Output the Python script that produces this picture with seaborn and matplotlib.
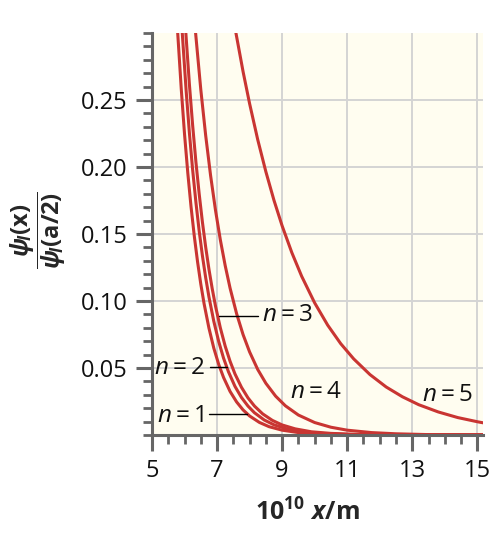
import numpy as np
import pandas as pd
import matplotlib
matplotlib.use("Agg")
from matplotlib import pyplot as plt
from matplotlib.ticker import MultipleLocator
import seaborn as sns

# values (x in 1e-10 m, y = psi(x)/psi(a/2))
n1_x = [5.79, 5.90, 6.00, 6.10, 6.20, 6.30, 6.40, 6.50, 6.60, 6.75, 6.90, 7.05, 7.20,
        7.40, 7.60, 7.80, 8.00, 8.30, 8.60, 9.00, 9.50, 10.0, 11.0, 12.0, 13.5, 15.2]
n1_y = [0.300, 0.258, 0.2245, 0.1956, 0.1703, 0.1484, 0.1293, 0.1126, 0.0981, 0.0798,
        0.0648, 0.0527, 0.0429, 0.0325, 0.0247, 0.0187, 0.0142, 0.0094, 0.0062, 0.0036,
        0.0018, 0.0009, 0.0002, 0.0001, 0.0, 0.0]

n2_x = [5.93, 6.05, 6.15, 6.25, 6.35, 6.45, 6.55, 6.65, 6.75, 6.90, 7.05, 7.20, 7.35,
        7.55, 7.75, 7.95, 8.15, 8.45, 8.75, 9.15, 9.60, 10.1, 11.0, 12.0, 13.5, 15.2]
n2_y = [0.300, 0.2567, 0.2252, 0.1977, 0.1736, 0.1523, 0.1337, 0.1174, 0.1031, 0.0848,
        0.0698, 0.0573, 0.0472, 0.0363, 0.0280, 0.0216, 0.0166, 0.0112, 0.0076, 0.0045,
        0.0025, 0.0013, 0.0004, 0.0001, 0.0, 0.0]

n3_x = [6.04, 6.15, 6.25, 6.35, 6.45, 6.55, 6.65, 6.75, 6.85, 6.95, 7.10, 7.25, 7.40,
        7.55, 7.75, 7.95, 8.15, 8.40, 8.70, 9.00, 9.40, 9.90, 10.5, 11.5, 13.0, 15.2]
n3_y = [0.300, 0.2616, 0.2309, 0.2037, 0.1800, 0.1588, 0.1402, 0.1238, 0.1093, 0.0964,
        0.0800, 0.0663, 0.0550, 0.0456, 0.0356, 0.0277, 0.0216, 0.0158, 0.0109, 0.0075,
        0.0046, 0.0024, 0.0012, 0.0003, 0.0001, 0.0]

n4_x = [6.34, 6.50, 6.65, 6.80, 6.95, 7.10, 7.25, 7.40, 7.60, 7.80, 8.00, 8.25, 8.50,
        8.80, 9.10, 9.50, 10.0, 10.5, 11.0, 11.75, 12.5, 13.5, 15.2]
n4_y = [0.300, 0.2577, 0.2235, 0.1938, 0.1680, 0.1457, 0.1264, 0.1096, 0.0906, 0.0749,
        0.0620, 0.0489, 0.0386, 0.0290, 0.0218, 0.0149, 0.0093, 0.0058, 0.0036, 0.0018,
        0.0009, 0.0003, 0.0001]

n5_x = [7.58, 7.80, 8.00, 8.25, 8.50, 8.75, 9.00, 9.30, 9.60, 10.0, 10.4, 10.8, 11.2,
        11.7, 12.2, 12.7, 13.2, 13.8, 14.4, 15.0, 15.2]
n5_y = [0.300, 0.2711, 0.2473, 0.2204, 0.1965, 0.1751, 0.1561, 0.1360, 0.1185, 0.0986,
        0.0820, 0.0682, 0.0568, 0.0451, 0.0358, 0.0285, 0.0226, 0.0172, 0.0130, 0.0099,
        0.0090]

x_ticks = [5, 7, 9, 11, 13, 15]
y_ticks = [0.05, 0.10, 0.15, 0.20, 0.25]
y_tick_labels = ["0.05", "0.10", "0.15", "0.20", "0.25"]
curve_labels = ["$n=1$", "$n=2$", "$n=3$", "$n=4$", "$n=5$"]

frames = []
for n, xs, ys in [(1, n1_x, n1_y), (2, n2_x, n2_y), (3, n3_x, n3_y),
                  (4, n4_x, n4_y), (5, n5_x, n5_y)]:
    frames.append(pd.DataFrame({"x": xs, "y": ys, "n": n}))
curves = pd.concat(frames, ignore_index=True)

red = "#c93532"
axis_grey = "#666666"

sns.set_theme(style="whitegrid", rc={
    "axes.facecolor": "#fffdf0",
    "grid.color": "#d4d4d4",
    "grid.linewidth": 1.4,
})
plt.rcParams["font.family"] = ["Open Sans", "DejaVu Sans"]
plt.rcParams["mathtext.fontset"] = "custom"
plt.rcParams["mathtext.rm"] = "Open Sans"
plt.rcParams["mathtext.it"] = "Open Sans:italic"
plt.rcParams["mathtext.bf"] = "Open Sans:bold"
plt.rcParams["mathtext.bfit"] = "Open Sans:italic:bold"
plt.rcParams["mathtext.sf"] = "Open Sans"

fig, ax = plt.subplots(figsize=(5.04, 5.46), dpi=100)
fig.subplots_adjust(left=0.3016, right=0.958, bottom=0.2033, top=0.9396)

sns.lineplot(data=curves, x="x", y="y", units="n", estimator=None, sort=False,
             color=red, lw=2.2, ax=ax, legend=False)

ax.set_xlim(5, 15.17)
ax.set_ylim(0, 0.30)
ax.set_xticks(x_ticks)
ax.set_yticks(y_ticks)
ax.set_yticklabels(y_tick_labels)
ax.xaxis.set_minor_locator(MultipleLocator(0.5))
ax.yaxis.set_minor_locator(MultipleLocator(0.01))
ax.grid(which="minor", visible=False)

for side in ["top", "right"]:
    ax.spines[side].set_visible(False)
for side in ["left", "bottom"]:
    ax.spines[side].set_color(axis_grey)
    ax.spines[side].set_linewidth(2.2)

ax.tick_params(which="major", direction="out", length=11.5, width=2.2,
               color=axis_grey, left=True, bottom=True, labelsize=17,
               labelcolor="#111111", pad=6)
ax.tick_params(which="minor", direction="out", length=6.5, width=2.0,
               color=axis_grey, left=True, bottom=True)

# curve labels with leader lines
label_pos = [(5.15, 0.0140), (5.06, 0.0500), (8.37, 0.0893), (9.23, 0.0323), (13.31, 0.0300)]
leaders = [((6.75, 7.92), 0.0157), ((6.78, 7.30), 0.0507), ((7.05, 8.25), 0.0890)]
for text, (tx, ty) in zip(curve_labels, label_pos):
    ax.text(tx, ty, text, fontsize=17.5, ha="left", va="center", color="#111111")
for (x0, x1), yl in leaders:
    ax.plot([x0, x1], [yl, yl], color="black", lw=1.0)

ax.set_xlabel(r"$\mathbf{10^{10}}\ \mathbfit{x}\mathbf{/m}$", fontsize=18)
ax.xaxis.set_label_coords(0.47, -0.16)
ax.set_ylabel(r"$\dfrac{\mathbfit{\psi}_{\!\mathbfit{I}}\mathbf{(x)}}"
              r"{\mathbfit{\psi}_{\!\mathbfit{I}}\mathbf{(a/2)}}$", fontsize=17)
ax.yaxis.set_label_coords(-0.255, 0.51)

fig.savefig("out.png", dpi=100)
